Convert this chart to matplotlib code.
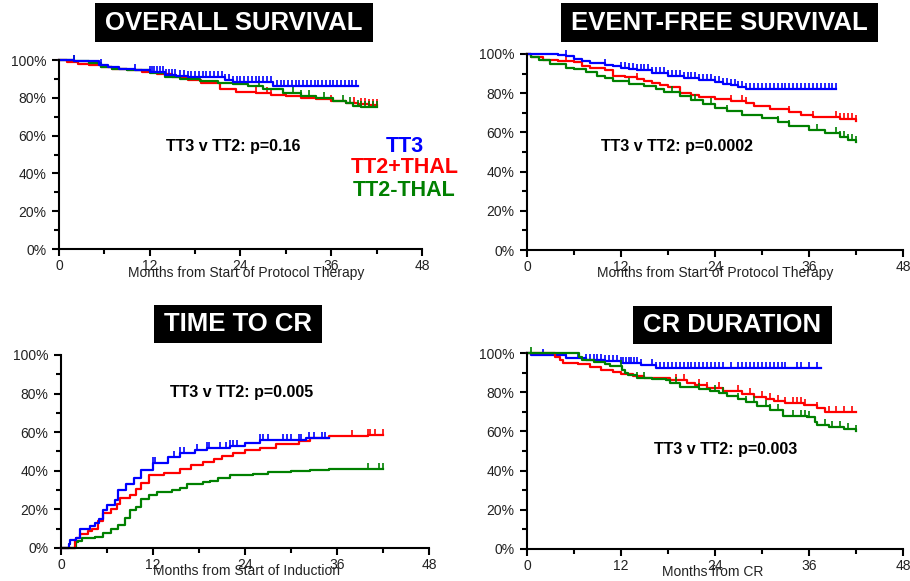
import matplotlib.pyplot as plt
import numpy as np
from matplotlib.patches import Rectangle
from matplotlib.ticker import MultipleLocator, FuncFormatter

plt.rcParams['font.family'] = ['Liberation Sans', 'DejaVu Sans']

BLUE = '#0000FF'
RED = '#FF0000'
GREEN = '#008000'

# ---- Overall survival ----
os_tt3_t = [0, 2, 5.3, 6.5, 8, 10, 12, 14, 15.5, 17, 19, 22, 23, 28.3, 39.5]
os_tt3_s = [100, 99.5, 97.5, 96.5, 95.5, 94.5, 93.5, 92.3, 91.5, 91, 90.8, 89.5, 88.5, 86.4, 86.4]
os_tt3_c = [2, 5.5, 10, 12, 12.3, 12.6, 13, 13.4, 13.8, 14.2, 14.6, 15, 15.4, 16, 16.5, 17, 17.5, 18,
            18.5, 19, 19.5, 20, 20.5, 21, 21.5, 22, 22.5, 23, 23.5, 24, 24.5, 25, 25.5, 26, 26.5, 27,
            27.5, 28, 28.8, 29.3, 29.8, 30.3, 30.8, 31.3, 31.8, 32.3, 32.8, 33.3, 33.8, 34.3, 34.8,
            35.3, 35.8, 36.3, 36.8, 37.3, 37.8, 38.3, 38.8, 39.3]
os_thal_t = [0, 1, 2.5, 4, 5.5, 7, 9, 11, 13, 15, 17, 18.8, 21.3, 23.4, 26, 28, 30, 32, 34, 36, 38, 39.5, 41, 42]
os_thal_s = [100, 99, 98, 97.5, 96.5, 95.5, 94.5, 93.5, 92.5, 91, 89.5, 87.8, 84.6, 83.2, 82.5, 81.5,
             80.7, 79.7, 79.2, 78.5, 77.5, 76.7, 76, 76]
os_thal_c = [26, 27.5, 28, 36, 39, 40, 40.5, 41, 41.5, 42]
os_nothal_t = [0, 2, 4, 5.5, 7, 9, 12, 14, 16, 18.6, 21, 23, 25, 27, 29.6, 32, 34, 36.2, 38, 38.9, 40, 42]
os_nothal_s = [100, 99.5, 98.5, 96.5, 95.5, 94.5, 93, 91, 90, 88.8, 88, 87.1, 86, 84.8, 82.7, 81.2,
               80, 78.3, 77, 75.7, 75.2, 75]
os_nothal_c = [2, 14, 26.5, 31, 32, 33, 35, 37.5, 38.5, 39.5, 40, 40.5, 41, 41.5, 42]

# ---- Event-free survival ----
efs_tt3_t = [0, 4, 5, 6, 7, 8, 10, 11, 12, 13, 14, 16, 18, 20, 22, 24, 25, 26, 27, 28, 39.5]
efs_tt3_s = [100, 99.5, 98.8, 97.5, 96.5, 95.5, 94.5, 93.8, 93, 92.3, 91.8, 90.3, 89, 87.7, 86.8,
             85.5, 84.8, 84.3, 83, 82, 82]
efs_tt3_c = [5, 10, 12, 12.5, 13, 13.5, 14, 14.5, 15, 15.5, 16, 16.5, 17, 17.5, 18, 18.5, 19, 19.5,
             20, 20.5, 21, 21.5, 22, 22.5, 23, 23.5, 24, 24.5, 25, 25.5, 26, 26.5, 27, 27.5, 28, 28.5,
             29, 29.5, 30, 30.5, 31, 31.5, 32, 32.5, 33, 33.5, 34, 34.5, 35, 35.5, 36, 36.5, 37, 37.5,
             38, 38.5, 39, 39.5]
efs_thal_t = [0, 0.5, 2, 4, 6, 7, 8, 10, 11, 12.5, 14, 15, 16, 17, 18, 19.5, 21, 22, 24, 26, 28, 29,
              31, 33.5, 35, 36.5, 40, 42]
efs_thal_s = [100, 98.5, 97, 96.5, 95.9, 94, 92.8, 91.7, 88.6, 88, 87.4, 86, 85.2, 84, 83.1, 80.1, 79,
              78, 77, 75.8, 75.2, 73.3, 72, 70.4, 69, 67.8, 67, 66]
efs_thal_c = [5, 14, 26, 27.5, 28, 33.5, 36.5, 39.5, 40, 40.5, 41, 41.5, 42]
efs_nothal_t = [0, 0.5, 1.5, 3, 5, 6, 7.5, 9, 10, 11, 13, 15, 16.5, 17.5, 19.5, 21, 22.5, 24, 25.5,
                27.5, 30, 32, 33.5, 36, 38, 40, 41, 42]
efs_nothal_s = [100, 98.5, 97, 95, 93, 92.2, 91, 88.6, 87.5, 86, 84.8, 83.5, 82, 80.5, 78.5, 76.5,
                74.5, 72.5, 71, 69, 67.3, 65.5, 63.3, 61.3, 59.6, 57.4, 56, 55]
efs_nothal_c = [13, 18.5, 21.5, 23.5, 25.5, 32, 33.5, 37, 39.5, 40, 40.5, 41, 41.5, 42]

# ---- Time to CR ----
ttcr_tt3_t = [0, 1, 1.2, 2, 2.5, 3.8, 4.5, 5, 5.5, 6, 7, 7.5, 8.5, 9.5, 10.5, 12, 14, 15.5, 17.5, 19,
              22, 24, 26, 32, 35]
ttcr_tt3_s = [0, 2, 4, 5, 9.8, 11.6, 13, 15, 19.8, 22.4, 25, 29.8, 33, 36.2, 40.2, 44, 47, 49, 51, 52,
              52.6, 54.5, 56, 57, 57]
ttcr_tt3_c = [12, 12.3, 14.8, 15.5, 16, 17.8, 19, 19.3, 20.8, 21.5, 22, 22.5, 23, 26, 26.4, 27, 29,
              29.5, 30, 31, 31.3, 32.3, 33, 34, 34.5]
ttcr_thal_t = [0, 1.8, 2, 2.5, 3.5, 4, 4.8, 5.5, 6.5, 7.3, 7.7, 9, 9.8, 10.5, 11.5, 13.5, 15.5, 17,
               18.5, 20, 21, 22.5, 24, 26, 28, 31, 32.5, 35, 40, 42]
ttcr_thal_s = [0, 4, 5, 7.2, 9, 9.8, 13.8, 18.1, 20, 22.9, 25.9, 27.6, 30.5, 33.6, 37.9, 39, 41, 43.1,
               44.5, 46, 47.9, 49, 50.9, 52, 54, 55.2, 57, 57.8, 58.5, 58.5]
ttcr_thal_c = [38, 40, 40.3, 41, 42]
ttcr_nothal_t = [0, 1.9, 2.2, 2.7, 4.5, 5.5, 6.5, 7.5, 8.3, 9, 9.8, 10.5, 11.5, 12.5, 14.5, 15.5, 16.5,
                 18.5, 19.5, 20.5, 22, 25, 27, 30, 32.5, 35, 42]
ttcr_nothal_s = [0, 3, 3.5, 5, 5.7, 7.8, 10, 12, 15.5, 19.5, 21, 25.3, 27.6, 28.8, 30.2, 31, 33.1, 34,
                 34.5, 36.5, 37.9, 38.5, 39.5, 40, 40.5, 41, 41]
ttcr_nothal_c = [40, 41.5, 42]

# ---- CR duration ----
crd_tt3_t = [0, 0.5, 5, 7.5, 10, 12, 14.5, 16.5, 37.5]
crd_tt3_s = [100, 98.8, 97.6, 96.6, 95.8, 95, 93.7, 92.5, 92.5]
crd_tt3_c = [2, 5, 6.5, 7.5, 8, 8.5, 9, 9.5, 10, 10.5, 11, 11.5, 12, 12.3, 12.6, 13, 13.3, 13.6, 14,
             14.5, 16, 16.5, 17, 17.5, 18, 18.5, 19, 19.5, 20, 20.5, 21, 21.5, 22, 22.5, 23, 23.5, 24,
             24.5, 25, 26, 27, 27.5, 28, 28.5, 29, 29.5, 30, 30.5, 31, 31.5, 32, 32.5, 33, 34.5, 35, 36, 37]
crd_thal_t = [0, 3.6, 4.2, 4.6, 6.5, 8, 9.5, 11, 12, 13.5, 15, 18.3, 20.4, 21.5, 23, 25, 27.5, 29, 30.5,
              31.5, 33, 35.3, 37, 38, 42]
crd_thal_s = [100, 98, 96.5, 95, 94.5, 93, 91.5, 90.3, 89.3, 88.3, 87, 86, 84.5, 83.5, 82.3, 80.5, 79,
              77.7, 76.5, 75.5, 74.5, 73.5, 71.8, 69.7, 69.7]
crd_thal_c = [19, 20, 22, 23, 24.5, 27, 28.5, 30, 31, 32, 33, 34, 34.5, 35, 35.5, 37, 38.5, 39.5, 40.5, 41.5]
crd_nothal_t = [0, 6.6, 7, 8.5, 10, 10.6, 12.1, 12.5, 12.9, 14, 16, 17.7, 18.3, 19.5, 22, 23.4, 24.5,
                25.5, 27, 28, 29.3, 31, 32.7, 35.7, 36.8, 37, 38.5, 40.5, 42]
crd_nothal_s = [100, 98, 96.4, 95.5, 94.5, 93.5, 91.5, 90, 88.8, 87.5, 86.5, 86, 84.5, 82.5, 81.5, 80.5,
                79.5, 78, 76.5, 75, 72.8, 71, 68, 67.3, 65, 63.3, 62.3, 61.2, 60.3]
crd_nothal_c = [0.5, 12, 14, 15, 19, 22, 24, 25, 27, 28, 29, 30.5, 31, 32, 34, 35, 35.5, 36, 38, 39, 40, 41, 42]


def km(ax, t, s, cens, color):
    t = np.asarray(t, float)
    s = np.asarray(s, float)
    ax.step(t, s, where='post', color=color, lw=1.6, clip_on=False)
    c = np.asarray(cens, float)
    cy = s[np.searchsorted(t, c, side='right') - 1]
    ax.plot(c, cy, ls='none', marker=2, markersize=4, mew=1.2, color=color, clip_on=False)


def style(ax, xlabel, xlab_x, xlab_y):
    ax.set_xlim(0, 48)
    ax.set_ylim(0, 100)
    ax.xaxis.set_major_locator(MultipleLocator(12))
    ax.xaxis.set_minor_locator(MultipleLocator(6))
    ax.yaxis.set_major_locator(MultipleLocator(20))
    ax.yaxis.set_minor_locator(MultipleLocator(10))
    ax.yaxis.set_major_formatter(FuncFormatter(lambda v, p: '%d%%' % v))
    for sp in ['top', 'right']:
        ax.spines[sp].set_visible(False)
    for sp in ['left', 'bottom']:
        ax.spines[sp].set_linewidth(1.5)
    ax.tick_params(which='major', direction='out', length=5, width=1.5, labelsize=10,
                   labelcolor='#222222')
    ax.tick_params(which='minor', direction='out', length=3.5, width=1.5)
    ax.tick_params(axis='x', pad=2)
    ax.tick_params(axis='y', pad=4)
    ax.set_xlabel(xlabel, fontsize=10, color='#222222')
    ax.xaxis.set_label_coords(xlab_x, xlab_y)
    ax.xaxis.label.set_va('center')


def title_box(fig, text, x0, y0, x1, y1):
    # box given in figure pixels from the top-left corner
    W, H = 910.0, 581.0
    fig.patches.append(Rectangle((x0 / W, 1 - y1 / H), (x1 - x0) / W, (y1 - y0) / H,
                                 transform=fig.transFigure, facecolor='black',
                                 edgecolor='none'))
    fig.text((x0 + x1) / 2 / W, 1 - (y0 + y1) / 2 / H, text, ha='center', va='center',
             color='white', fontsize=18.5, fontweight='bold')


fig = plt.figure(figsize=(9.10, 5.81), dpi=100)

ax1 = fig.add_axes([0.0648, 0.5714, 0.3989, 0.3253])
ax2 = fig.add_axes([0.5791, 0.5697, 0.4132, 0.3374])
ax3 = fig.add_axes([0.0670, 0.0568, 0.4044, 0.3322])
ax4 = fig.add_axes([0.5791, 0.0551, 0.4132, 0.3373])

km(ax1, os_thal_t, os_thal_s, os_thal_c, RED)
km(ax1, os_nothal_t, os_nothal_s, os_nothal_c, GREEN)
km(ax1, os_tt3_t, os_tt3_s, os_tt3_c, BLUE)

km(ax2, efs_thal_t, efs_thal_s, efs_thal_c, RED)
km(ax2, efs_nothal_t, efs_nothal_s, efs_nothal_c, GREEN)
km(ax2, efs_tt3_t, efs_tt3_s, efs_tt3_c, BLUE)

km(ax3, ttcr_nothal_t, ttcr_nothal_s, ttcr_nothal_c, GREEN)
km(ax3, ttcr_thal_t, ttcr_thal_s, ttcr_thal_c, RED)
km(ax3, ttcr_tt3_t, ttcr_tt3_s, ttcr_tt3_c, BLUE)

km(ax4, crd_tt3_t, crd_tt3_s, crd_tt3_c, BLUE)
km(ax4, crd_thal_t, crd_thal_s, crd_thal_c, RED)
km(ax4, crd_nothal_t, crd_nothal_s, crd_nothal_c, GREEN)

style(ax1, 'Months from Start of Protocol Therapy', 0.515, -0.127)
style(ax2, 'Months from Start of Protocol Therapy', 0.50, -0.117)
style(ax3, 'Months from Start of Induction', 0.505, -0.12)
style(ax4, 'Months from CR', 0.495, -0.117)

pkw = dict(ha='center', va='center', fontsize=11.5, fontweight='bold')
ax1.text(23, 54.5, 'TT3 v TT2: p=0.16', **pkw)
ax2.text(19.1, 53, 'TT3 v TT2: p=0.0002', **pkw)
ax3.text(23.6, 80.8, 'TT3 v TT2: p=0.005', **pkw)
ax4.text(25.3, 51, 'TT3 v TT2: p=0.003', **pkw)

lkw = dict(ha='center', va='center', fontsize=15.5, fontweight='bold', clip_on=False)
ax1.text(45.7, 54.5, 'TT3', color=BLUE, **lkw)
ax1.text(45.7, 42.9, 'TT2+THAL', color=RED, **lkw)
ax1.text(45.7, 30.7, 'TT2-THAL', color=GREEN, **lkw)

title_box(fig, 'OVERALL SURVIVAL', 95, 3, 373, 42)
title_box(fig, 'EVENT-FREE SURVIVAL', 561, 3, 878, 42)
title_box(fig, 'TIME TO CR', 154, 305, 322, 343)
title_box(fig, 'CR DURATION', 633, 306, 832, 344)

fig.savefig('out.png', dpi=100)
